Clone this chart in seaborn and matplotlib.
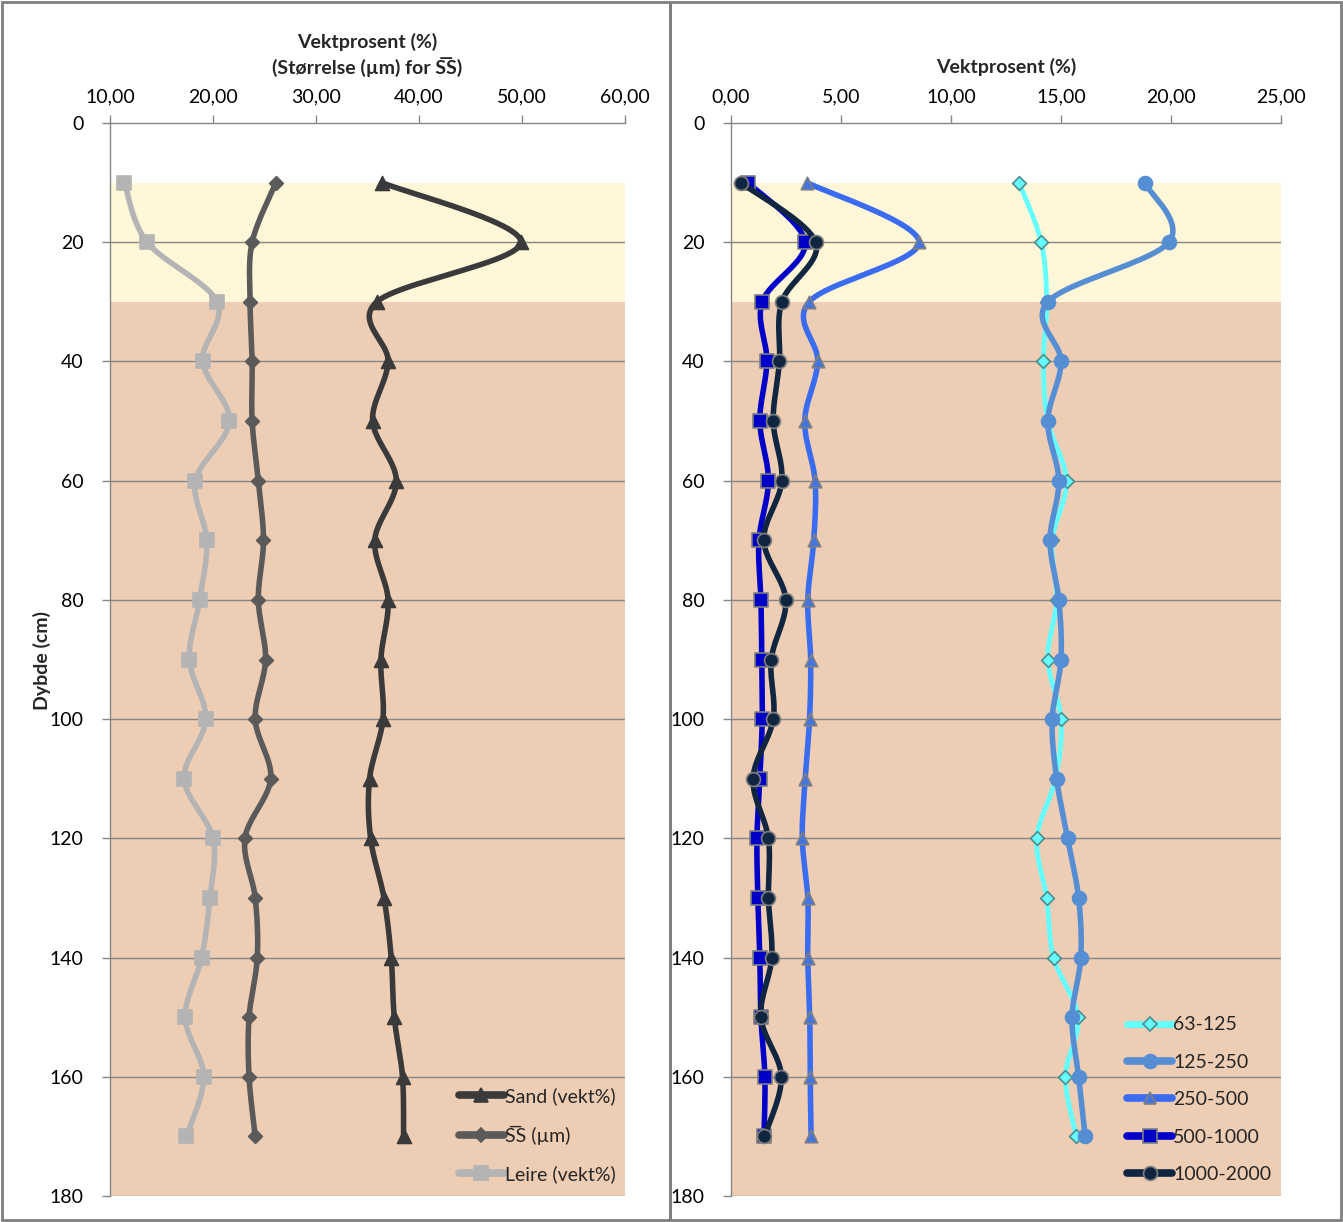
import numpy as np
import matplotlib
matplotlib.use('Agg')
import matplotlib.pyplot as plt
import seaborn as sns
from matplotlib.lines import Line2D
from matplotlib.patches import Rectangle
from matplotlib.ticker import FuncFormatter, MultipleLocator

# depth of each sample (cm)
depth = [10, 20, 30, 40, 50, 60, 70, 80, 90, 100, 110, 120, 130, 140, 150, 160, 170]

# left panel: weight % and mean size
sand = [36.4, 49.9, 35.9, 37.0, 35.5, 37.8, 35.7, 37.0, 36.3, 36.5, 35.2, 35.3, 36.6, 37.3, 37.6, 38.4, 38.5]
ss_mean = [26.1, 23.8, 23.6, 23.8, 23.8, 24.4, 24.9, 24.4, 25.1, 24.1, 25.6, 23.1, 24.1, 24.3, 23.5, 23.5, 24.1]
leire = [11.4, 13.6, 20.4, 19.0, 21.6, 18.3, 19.4, 18.7, 17.7, 19.3, 17.2, 20.0, 19.7, 18.9, 17.3, 19.1, 17.4]

# right panel: weight % per fraction (µm)
f63_125 = [13.1, 14.1, 14.35, 14.2, 14.4, 15.25, 14.6, 14.8, 14.4, 15.0, 14.75, 13.9, 14.35, 14.66, 15.77, 15.2, 15.7]
f125_250 = [18.8, 19.9, 14.4, 15.0, 14.4, 14.9, 14.5, 14.9, 15.0, 14.6, 14.8, 15.3, 15.8, 15.9, 15.5, 15.8, 16.1]
f250_500 = [3.46, 8.55, 3.55, 3.94, 3.35, 3.82, 3.76, 3.49, 3.62, 3.57, 3.37, 3.24, 3.49, 3.49, 3.58, 3.60, 3.64]
f500_1000 = [0.77, 3.37, 1.42, 1.63, 1.31, 1.70, 1.27, 1.36, 1.40, 1.42, 1.31, 1.18, 1.22, 1.31, 1.36, 1.54, 1.50]
f1000_2000 = [0.45, 3.85, 2.31, 2.20, 1.92, 2.31, 1.49, 2.49, 1.83, 1.92, 1.00, 1.70, 1.70, 1.85, 1.36, 2.29, 1.52]

FONT = ['Lato', 'DejaVu Sans']
sns.set_style('white')
plt.rcParams['font.family'] = FONT
plt.rcParams['font.size'] = 14

W, H = 1343, 1222
fig = plt.figure(figsize=(W / 100, H / 100), dpi=100)


def px_rect(x0, y0, x1, y1):
    return [x0 / W, 1 - y1 / H, (x1 - x0) / W, (y1 - y0) / H]


def smooth(xv, yv, n=25):
    # excel-style smoothed line (bezier through the points)
    pts = np.column_stack([xv, yv]).astype(float)
    P = np.vstack([pts[0], pts, pts[-1]])
    t = np.linspace(0, 1, n)[:, None]
    segs = []
    for i in range(1, len(P) - 2):
        p0, p1, p2, p3 = P[i - 1], P[i], P[i + 1], P[i + 2]
        c1 = p1 + (p2 - p0) / 6
        c2 = p2 - (p3 - p1) / 6
        segs.append((1 - t) ** 3 * p1 + 3 * (1 - t) ** 2 * t * c1 + 3 * (1 - t) * t ** 2 * c2 + t ** 3 * p2)
    out = np.vstack(segs)
    return out[:, 0], out[:, 1]


def comma_fmt(v, pos):
    return f'{v:.2f}'.replace('.', ',')


GRID = '#868686'


def setup_axes(ax, xlim, step):
    ax.axhspan(10, 30, color='#FFF7D7', zorder=0, lw=0)
    ax.axhspan(30, 180, color='#EECDB5', zorder=0, lw=0)
    ax.set_xlim(*xlim)
    ax.set_ylim(180, 0)
    ax.xaxis.tick_top()
    ax.xaxis.set_major_locator(MultipleLocator(step))
    ax.xaxis.set_major_formatter(FuncFormatter(comma_fmt))
    ax.yaxis.set_major_locator(MultipleLocator(20))
    for y in range(20, 181, 20):
        ax.axhline(y, color=GRID, lw=1, zorder=1)
    for s in ['right', 'bottom']:
        ax.spines[s].set_visible(False)
    for s in ['left', 'top']:
        ax.spines[s].set_color(GRID)
        ax.spines[s].set_linewidth(1)
    ax.tick_params(axis='both', direction='out', length=6, width=1, color=GRID,
                   labelsize=14, labelcolor='black', pad=4)
    ax.tick_params(axis='x', top=True, bottom=False, pad=7)
    ax.tick_params(axis='y', left=True, pad=13)
    ax.set_xlabel('')
    ax.set_ylabel('')
    ax.set_facecolor('white')


def draw_series(ax, vals, color, lw, marker, ms, mfc, mec, label, z):
    xs, ys = smooth(vals, depth)
    sns.lineplot(x=xs, y=ys, sort=False, estimator=None, color=color, lw=lw, ax=ax, zorder=z)
    sns.scatterplot(x=vals, y=depth, marker=marker, s=ms ** 2, color=mfc, edgecolor=mec,
                    linewidth=1.2, ax=ax, zorder=z + 0.5)
    return Line2D([], [], color=color, lw=lw + 1.5, marker=marker, markersize=ms,
                  markerfacecolor=mfc, markeredgecolor=mec, markeredgewidth=1.2, label=label)


# outer frames
for x0, x1 in [(2, 670), (670, 1341)]:
    fig.patches.append(Rectangle((x0 / W, 2 / H), (x1 - x0) / W, (H - 4) / H,
                                 transform=fig.transFigure, fill=False,
                                 edgecolor='#7F7F7F', lw=2))

# left panel
ax1 = fig.add_axes(px_rect(110, 123, 625, 1196))
setup_axes(ax1, (10, 60), 10)
h1 = [
    draw_series(ax1, sand, '#3A3A3A', 4, '^', 10, '#3A3A3A', '#3A3A3A', 'Sand (vekt%)', 5),
    draw_series(ax1, ss_mean, '#5A5A5A', 4, 'D', 7, '#5A5A5A', '#5A5A5A', 'S\u0305S (µm)', 4),
    draw_series(ax1, leire, '#B4B4B4', 4, 's', 10, '#B4B4B4', '#B4B4B4', 'Leire (vekt%)', 3),
]
ax1.legend(handles=h1, loc='lower right', frameon=False, fontsize=14,
           handlelength=2.3, handletextpad=0.05, labelspacing=1.05,
           borderaxespad=0.1, bbox_to_anchor=(1.0, 0.003))

# right panel
ax2 = fig.add_axes(px_rect(731, 123, 1281, 1196))
setup_axes(ax2, (0, 25), 5)
h2 = [
    draw_series(ax2, f63_125, '#66FFFF', 3.5, 'D', 7, '#66FFFF', '#4C8C8C', '63-125', 3),
    draw_series(ax2, f125_250, '#568ED4', 4, 'o', 10, '#568ED4', '#568ED4', '125-250', 4),
    draw_series(ax2, f250_500, '#3A6CF2', 4, '^', 9, '#4474E0', '#7F7F7F', '250-500', 5),
    draw_series(ax2, f500_1000, '#0000C8', 4, 's', 10, '#0000C8', '#7F7F7F', '500-1000', 6),
    draw_series(ax2, f1000_2000, '#10253F', 4, 'o', 10, '#10253F', '#7F7F7F', '1000-2000', 7),
]
ax2.legend(handles=h2, loc='lower right', frameon=False, fontsize=14,
           handlelength=2.3, handletextpad=0.05, labelspacing=1.05,
           borderaxespad=0.1, bbox_to_anchor=(1.0, 0.003))

# titles
fig.text(367 / W, 1 - 42 / H, 'Vektprosent (%)', ha='center', va='center',
         fontsize=14, fontweight='bold', family=FONT)
fig.text(367 / W, 1 - 67 / H, '(Størrelse (µm) for S\u0305S)', ha='center', va='center',
         fontsize=14, fontweight='bold', family=FONT)
fig.text(1006 / W, 1 - 67 / H, 'Vektprosent (%)', ha='center', va='center',
         fontsize=14, fontweight='bold', family=FONT)
fig.text(42 / W, 1 - 660 / H, 'Dybde (cm)', ha='center', va='center', rotation=90,
         fontsize=14, fontweight='bold', family=FONT)

fig.savefig('out.png', dpi=100, facecolor='white')
